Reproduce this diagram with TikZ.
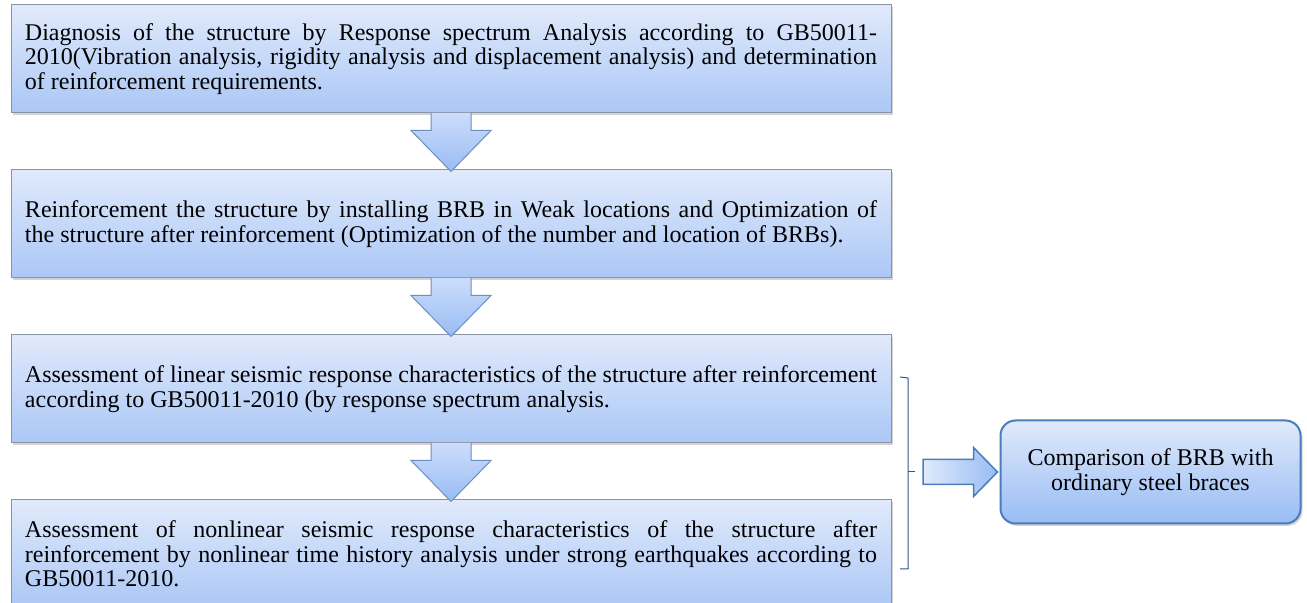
\documentclass[tikz,border=0pt]{standalone}
\usepackage{fontspec}
\setmainfont{Liberation Serif}
\usetikzlibrary{positioning, calc, shadows}
\definecolor{BoxTop}{RGB}{224, 234, 251}
\definecolor{BoxBottom}{RGB}{171, 199, 246}
\definecolor{BoxLine}{RGB}{136, 148, 166}
\definecolor{ArrowTop}{RGB}{204, 221, 251}
\definecolor{ArrowBottom}{RGB}{152, 188, 244}
\definecolor{ArrowLine}{RGB}{108, 142, 192}
\definecolor{MainBlue}{RGB}{74, 126, 187}

\begin{document}
\begin{tikzpicture}[
    x=0.5pt, y=-0.5pt,
    node distance=28pt,
    every node/.style={font=\fontsize{12}{12.25}\selectfont},
    stage/.style={draw=BoxLine, line width=0.5pt, top color=BoxTop, bottom color=BoxBottom,
                  text width=426pt, align=justify, inner xsep=7pt, minimum height=54pt,
                  drop shadow={shadow xshift=1pt, shadow yshift=-1.2pt, opacity=0.35}},
    result/.style={draw=MainBlue, line width=1pt, rounded corners=7.5pt,
                   top color=BoxTop, bottom color=ArrowBottom, align=center,
                   minimum width=150pt, minimum height=51.5pt,
                   drop shadow={shadow xshift=1pt, shadow yshift=-1.2pt, opacity=0.35}},
    downarrow/.style={draw=ArrowLine, line width=0.5pt, top color=ArrowTop, bottom color=ArrowBottom},
    rightarrow/.style={draw=MainBlue, line width=0.75pt, left color=BoxTop, right color=ArrowBottom},
    bracket/.style={draw=MainBlue!70!black, line width=0.5pt}
]
\useasboundingbox (0,0) rectangle (1307,603);

\node[stage] (b1) at (451,59)
  {Diagnosis of the structure by Response spectrum Analysis according to GB50011-\linebreak
   2010(Vibration analysis, rigidity analysis and displacement analysis) and determination
   of reinforcement requirements.};
\node[stage, below=of b1] (b2)
  {Reinforcement the structure by installing BRB in Weak locations and Optimization of\linebreak
   the structure after reinforcement (Optimization of the number and location of BRBs).};
\node[stage, below=of b2] (b3)
  {Assessment of linear seismic response characteristics of the structure after reinforcement\linebreak
   according to GB50011-2010 (by response spectrum analysis.};
\node[stage, below=of b3] (b4)
  {Assessment of nonlinear seismic response characteristics of the structure after\linebreak
   reinforcement by nonlinear time history analysis under strong earthquakes according to\linebreak
   GB50011-2010.};

\node[result] (cmp) at (1150.5,472) {Comparison of BRB with\\ordinary steel braces};

% block arrows between the stages
\foreach \a/\b in {b1/b2, b2/b3, b3/b4}
  \path[downarrow] ($(\a.south)+(-20,-0.5)$) -- ($(\a.south)+(-20,17)$) -- ($(\a.south)+(-40,17)$)
     -- ($(\b.north)+(0,2)$) -- ($(\a.south)+(40,17)$) -- ($(\a.south)+(20,17)$) -- ($(\a.south)+(20,-0.5)$);

% bracket round the last two stages
\draw[bracket] (900,377) -- (908,378) -- (908,569) -- (900,569);
\coordinate (brk) at (915,472);
\draw[bracket] (908,472) -- (brk);
\path[rightarrow] ($(brk)+(8,-12.5)$) -- ($(cmp.west)+(-26,-12.5)$) -- ($(cmp.west)+(-26,-24.5)$)
   -- ($(cmp.west)+(-2,0)$) -- ($(cmp.west)+(-26,24.5)$) -- ($(cmp.west)+(-26,12.5)$)
   -- ($(brk)+(8,12.5)$) -- cycle;
\end{tikzpicture}
\end{document}
